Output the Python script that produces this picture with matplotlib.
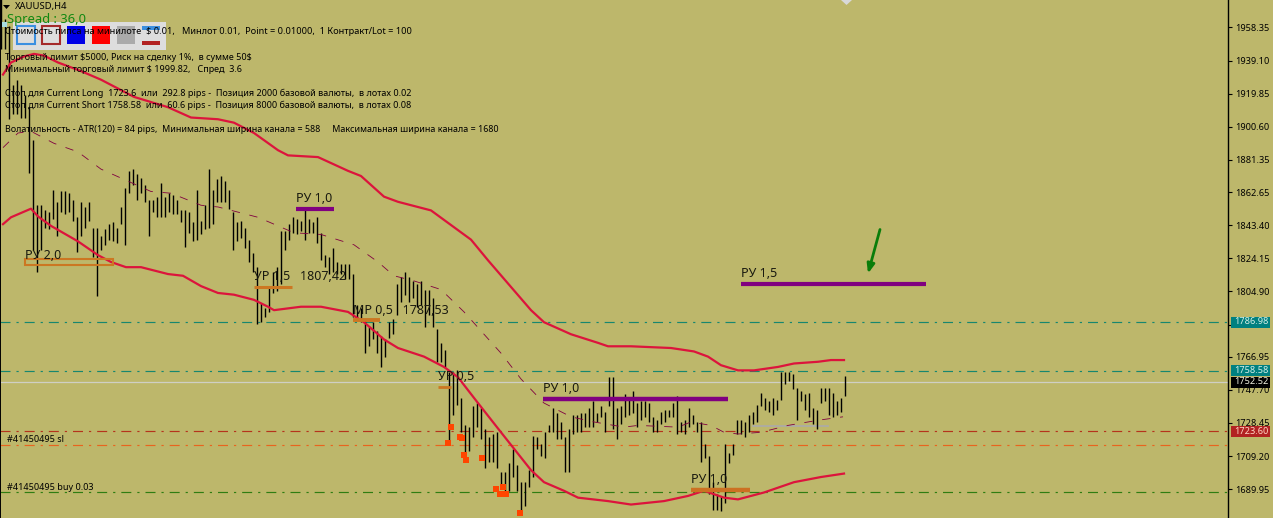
import matplotlib
matplotlib.use("Agg")
import matplotlib.pyplot as plt
from matplotlib.patches import Rectangle, Polygon

plt.rcParams['lines.scale_dashes'] = False
plt.rcParams['font.family'] = ['Noto Sans', 'DejaVu Sans']

W, H = 1273, 518
BG = '#BDB76B'

highs = [1975,1963,1959,1925,1928,1925,1919,1912,1893,1855,1855,1852,1851,1864,1857,1863,1863,1862,1858,1848,
         1857,1854,1857,1842,1842,1837,1841,1844,1845,1842,1854,1865,1875,1876,1873,1871,1867,1858,1858,1860,
         1868,1860,1862,
         1861,1858,1852,1852,1851,1845,1864,1846,1855,1876,1864,1870,1872,1869,1864,1851,1845,1846,1842,1835,
         1827,1819,1798,1795,1807,1816,1819,1840,1840,1844,1848,1847,1846,1852,1847,1845,1848,1839,1826,1825,
         1830,1822,
         1821,1821,1821,1815,1797,1795,1789,1784,1787,1782,1779,1777,1787,1789,1809,1813,1816,1813,1811,1809,
         1811,1806,1806,1801,1783,1775,1771,1758,1758,1759,1743,1727,1726,1738,1740,1737,1725,1720,1722,1723,
         1700,1700,1705,
         1713,1704,1694,1694,1701,1721,1720,1716,1723,1727,1737,1734,1729,1720,1725,1733,1733,1734,1734,1737,
         1741,1734,1738,1735,1755,1755,1737,1738,1745,1743,1747,1740,1741,1741,1740,1732,1730,1735,1736,1736,
         1740,1744,
         1729,1730,1737,1733,1729,1729,1716,1709,1694,1687,1686,1716,1711,1716,1730,1730,1729,1733,1735,1739,
         1746,1743,1741,1743,1742,1758,1758,1758,1757,1749,1747,1745,1746,1737,1736,1749,1749,1749,1746,1741,
         1743,1756]
lows = [1946,1946,1905,1908,1908,1906,1906,1874,1829,1816,1829,1842,1841,1847,1837,1851,1850,1851,1846,1828,
        1837,1842,1846,1825,1802,1829,1832,1835,1834,1833,1844,1832,1862,1867,1858,1862,1857,1837,1851,1848,
        1848,1848,1851,
        1850,1850,1845,1831,1839,1834,1835,1838,1841,1842,1844,1857,1857,1857,1853,1829,1834,1836,1830,1822,
        1816,1786,1787,1790,1793,1804,1805,1809,1829,1835,1839,1838,1840,1835,1839,1839,1833,1823,1819,1815,
        1816,1815,
        1815,1812,1812,1790,1789,1787,1769,1773,1777,1769,1761,1767,1778,1780,1791,1799,1803,1799,1801,1796,
        1797,1784,1791,1784,1764,1764,1761,1718,1733,1739,1723,1708,1712,1720,1726,1719,1702,1706,1706,1702,
        1691,1689,1689,
        1697,1689,1677,1680,1691,1697,1713,1709,1708,1723,1723,1719,1719,1700,1700,1722,1723,1723,1726,1726,
        1726,1729,1732,1723,1738,1725,1719,1728,1732,1733,1734,1726,1730,1732,1729,1723,1723,1728,1729,1732,
        1732,1722,
        1723,1722,1726,1728,1723,1706,1708,1687,1678,1678,1677,1682,1705,1710,1722,1722,1720,1723,1728,1729,
        1738,1736,1735,1733,1736,1742,1751,1753,1748,1730,1741,1736,1732,1728,1725,1740,1741,1733,1732,1733,
        1735,1744]

upper_x = [0.5,2.5,5.75,8.25,10.75,14.25,20,25,33.25,41.75,47.5,54.25,58.25,63.25,69.25,71.75,79.25,86.75,90,95.75,
           99.25,107.5,117.5,121.75,132.5,135.75,142.5,149.25,151.75,157.5,167.5,173.25,176.75,180,184.25,188.25,
           194.25,198.25,204.25,207.5,210.75]
upper_y = [1931,1938,1941.5,1943,1942,1938,1933,1928,1918,1912,1906,1905,1903,1897,1887,1884,1883,1875,1872,1860,
           1857,1852,1835,1823,1794,1787,1780,1775,1773,1773,1772,1770,1767,1762,1759,1759,
           1761,1763,1764,1765,1765]
lower_x = [0.5,2.5,7.5,9.25,12.5,19.25,24.25,27.5,31.25,35,41.75,45.5,50,54.25,58.25,63.25,66.75,68.25,75,80,86.75,
           90.75,95.75,99.25,105.75,110.75,114.25,119.25,125,132.5,135.75,140.75,144.25,151.75,157.5,165.75,171.75,
           175.75,180.75,184.25,190.75,198.25,205,210.75]
lower_y = [1844,1848,1853,1848.5,1843,1834,1826,1822,1819,1819,1815,1814,1808,1804,1803,1800,1796,1794,1796,1796,1793,
           1787,1777,1772,1767,1761,1755,1740,1723,1701,1694,1689,1685,1683,1681,1683,1686,
           1689,1685,1684,1688,1694,1697,1699]
ma_x = [0.5,4.25,7.5,13.25,19.25,25,31.75,37.5,42.5,50,54.25,64.25,73.25,80,88.25,94.25,98.25,103.25,110,115.75,120.75,
        125,130,135.75,142.5,148.25,155.75,159.25,169.25,172.5,177.5,180.75,184.25,190,196.75,204.25,210.5]
ma_y = [1888.5,1897,1898,1891,1886,1876,1869,1863,1862,1855,1854,1848,1839,1838,1832,1822,1814,1811,1806,1793,1780,
        1769,1754,1740,1732,1729,1726,1727,1726,1729,1727,1723,1722,1723,1727,1730,1732]

marker_x = [112.5,111.75,114.75,115.25,115.75,116.25,120.25,123.75,124.75,125.5,126.25,129.75]
marker_y = [1726.3,1717,1720.5,1719.4,1710,1707,1708,1690,1687,1691,1687,1676]

tick_prices = [1958.35,1939.10,1919.85,1900.60,1881.35,1862.65,1843.40,1824.15,1804.90,1785.65,1766.95,1747.70,1728.45,1709.20,1689.95]
tick_labels = ['%.2f' % p for p in tick_prices]

hline_prices = [1786.98,1758.58,1723.60,1715.9,1688.0]
hline_colors = ['#17876f','#17876f','#b5331c','#e8641e','#2f7d12']
current_price = 1752.52

seg_labels = ['УР 1,5   1807,42','РУ 1,0','МР 0,5   1787,53','УР 0,5','РУ 1,0','РУ 1,5','РУ 1,0']
seg_start = [63.25,73.75,88,109.25,135.5,185,172.5]
seg_end = [72.75,83.25,94.75,112.5,181.75,231.25,187.25]
seg_price = [1807.7,1853.1,1788,1749.6,1742.6,1809.5,1689.7]
seg_color = ['#cc7722','#800080','#cc7722','#cc7722','#800080','#800080','#cc7022']
seg_width = [2.2,3.0,2.8,2.0,3.2,3.0,3.2]

info_lines = [
    (32, 6.62, 'Стоимость пипса на минилоте  $ 0.01,   Минлот 0.01,  Point = 0.01000,  1 Контракт/Lot = 100'),
    (57, 6.5, 'Торговый лимит $5000, Риск на сделку 1%,  в сумме 50$'),
    (69, 6.5, 'Минимальный торговый лимит $ 1999.82,   Спред  3.6'),
    (93, 6.53, 'Стоп для Current Long  1723.6  или  292.8 pips -  Позиция 2000 базовой валюты,  в лотах 0.02'),
    (105, 6.53, 'Стоп для Current Short 1758.58  или  60.6 pips -  Позиция 8000 базовой валюты,  в лотах 0.08'),
    (129, 6.43, 'Волатильность - ATR(120) = 84 pips,  Минимальная ширина канала = 588     Максимальная ширина канала = 1680'),
]

fig = plt.figure(figsize=(W / 100, H / 100), dpi=100, facecolor=BG)
ax = fig.add_axes([0, 0, 1228 / W, 1], facecolor=BG)
ax.set_xlim(-0.25, 306.75)
ax.set_ylim(1673.17, 1974.33)
for s in ('top', 'bottom'):
    ax.spines[s].set_visible(False)
ax.spines['left'].set_linewidth(1.4)
ax.spines['right'].set_linewidth(1.0)
ax.yaxis.tick_right()
ax.set_yticks(tick_prices)
ax.set_yticklabels(tick_labels, fontsize=6.6, color='black')
ax.tick_params(axis='y', length=3, width=0.8, pad=2, direction='out')
ax.set_xticks([])

pattern = (0, (7.2, 4.3, 1.6, 4.3))
for p, c in zip(hline_prices, hline_colors):
    ax.axhline(p, color=c, lw=0.85, ls=pattern, zorder=1)
ax.axhline(current_price, color='#cfcfc4', lw=0.9, zorder=1)

ax.vlines(range(len(highs)), lows, highs, colors='black', lw=1.0, zorder=3)

ax.plot(ma_x, ma_y, color='#800040', lw=0.6, ls=(0, (6, 7)), zorder=4)
ax.plot(upper_x, upper_y, color='#dc143c', lw=1.6, zorder=5)
ax.plot(lower_x, lower_y, color='#dc143c', lw=1.6, zorder=5)

ax.add_patch(Rectangle((6, 1820.5), 22, 3.5, fill=False, ec='#cc7722', lw=1.5, zorder=6))
ax.annotate('РУ 2,0', (6, 1824), xytext=(0, 0), textcoords='offset points', fontsize=9, color='#1a1a10', zorder=7)
for t, a, b, p, c, w in zip(seg_labels, seg_start, seg_end, seg_price, seg_color, seg_width):
    ax.plot([a, b], [p, p], color=c, lw=w, solid_capstyle='butt', zorder=6)
    ax.annotate(t, (a, p), xytext=(0, 4.5), textcoords='offset points', fontsize=9, color='#1a1a10', zorder=7)

ax.plot([188, 206.75], [1726.4, 1726.4], color='#a9a9b4', lw=1.3, alpha=0.8, zorder=2)
ax.scatter(marker_x, marker_y, marker='s', s=14, color='#ff4500', linewidths=0, zorder=8)
ax.annotate('', xy=(216.75, 1815.3), xytext=(219.75, 1840.9),
            arrowprops=dict(arrowstyle='-|>,head_width=0.22,head_length=0.55', color='#0a7d0a', lw=2, shrinkA=0, shrinkB=0), zorder=8)


def ftext(x, y, s, **kw):
    kw.setdefault('fontsize', 6.5)
    kw.setdefault('va', 'center')
    kw.setdefault('color', 'black')
    return fig.text(x / W, 1 - y / H, s, zorder=10, parse_math=False, **kw)


def frect(x0, y0, x1, y1, **kw):
    fig.add_artist(Rectangle((x0 / W, 1 - y1 / H), (x1 - x0) / W, (y1 - y0) / H,
                             transform=fig.transFigure, zorder=9, **kw))


frect(13, 22, 166, 50, fc='#dddddd', ec='none')
frect(17, 26, 35, 43.5, fc='#dddddd', ec='#3b8fe0', lw=1.5)
frect(42, 26, 60, 43.5, fc='#dddddd', ec='#a52a2a', lw=1.5)
frect(67, 26, 85, 44, fc='#0000e6', ec='none')
frect(92, 26, 110, 44, fc='#ff0000', ec='none')
frect(117, 26, 135, 44, fc='#aaaaaa', ec='none')
frect(142, 26, 160, 30, fc='#3b8fe0', ec='none')
frect(142, 41, 160, 45, fc='#b22222', ec='none')
frect(2, 22, 7, 27, fc='#a8dce0', ec='none')
fig.add_artist(Polygon([(3 / W, 1 - 5 / H), (10 / W, 1 - 5 / H), (6.5 / W, 1 - 9 / H)],
                       transform=fig.transFigure, fc='black', ec='none', zorder=10))
fig.add_artist(Polygon([(841 / W, 1), (852 / W, 1), (846.5 / W, 1 - 5 / H)],
                       transform=fig.transFigure, fc='#d8d8d8', ec='none', zorder=10))

ftext(15, 7, 'XAUUSD,H4', fontsize=6.8)
ftext(7, 20, 'Spread : 36,0', fontsize=9.3, color='#118811')
for y, fs, s in info_lines:
    ftext(5, y, s, fontsize=fs)
ftext(7, 439, '#41450495 sl')
ftext(7, 488, '#41450495 buy 0.03')

for y, label, bg, fg in [(322, '1786.98', '#008080', '#d8f0e8'),
                         (370.5, '1758.58', '#008080', '#d8f0e8'),
                         (382, '1752.52', '#000000', '#f0f0e0'),
                         (431, '1723.60', '#b22222', '#ffd8c8')]:
    frect(1231, y - 5.5, 1270, y + 5.5, fc=bg, ec='none')
    ftext(1234.5, y, label, fontsize=6.6, color=fg)

fig.savefig('out.png', dpi=100, facecolor=BG)
